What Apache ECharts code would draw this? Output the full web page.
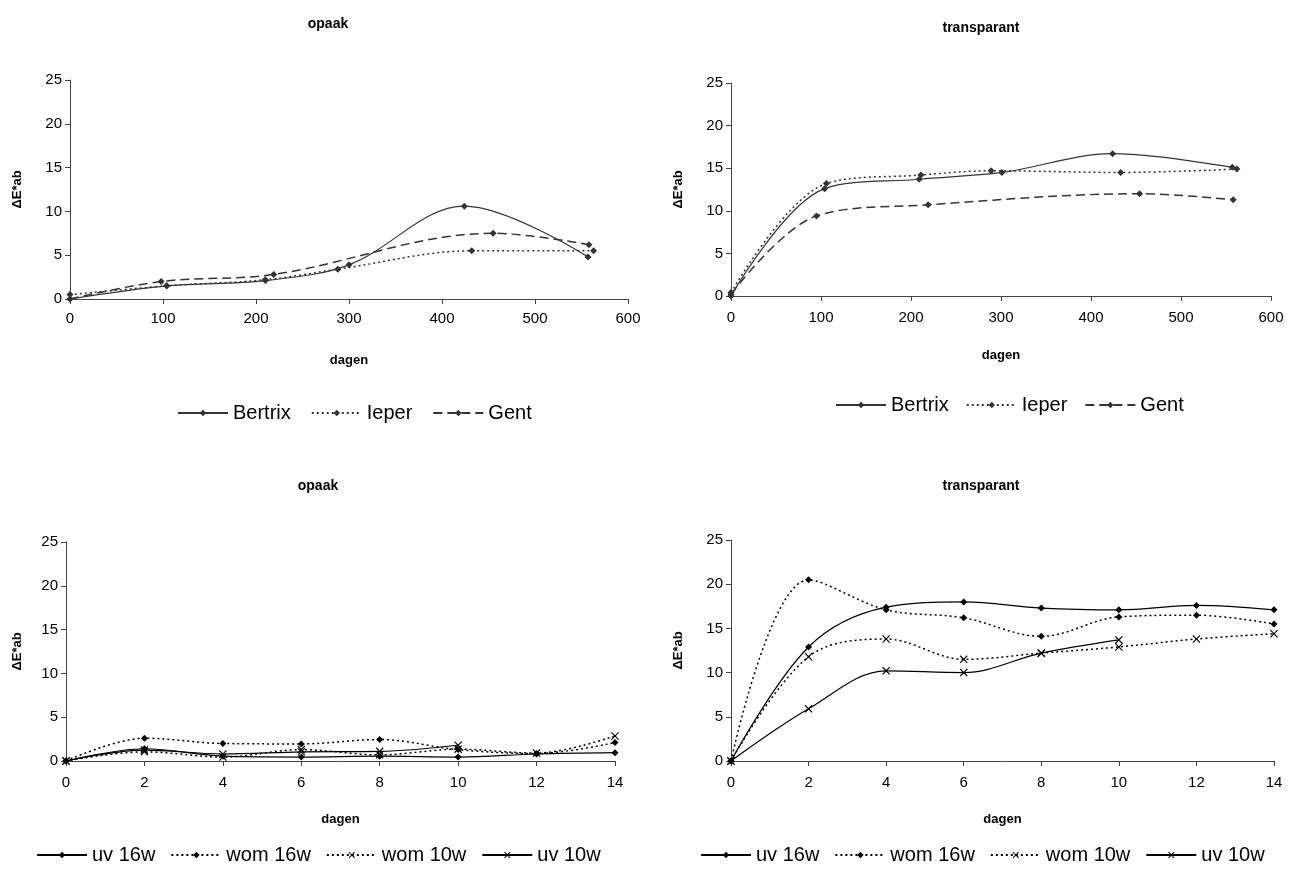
<!DOCTYPE html>
<html>
<head>
<meta charset="utf-8">
<script src="https://cdn.jsdelivr.net/npm/echarts@6/dist/echarts.min.js"></script>
<style>
  html, body { margin: 0; padding: 0; background: #fff; }
  #chart { width: 1297px; height: 876px; }
</style>
</head>
<body>
<div id="chart"></div>
<script>
// ---- ΔE*ab colour change, outdoor exposure (dagen) ----
const opaakBertrixDays = [0, 104, 210, 300, 424, 557];
const opaakBertrix     = [0, 1.5, 2.1, 3.9, 10.6, 4.8];
const opaakIeperDays   = [0, 104, 210, 288, 432, 563];
const opaakIeper       = [0.5, 1.5, 2.2, 3.4, 5.5, 5.5];
const opaakGentDays    = [0, 98, 219, 455, 558];
const opaakGent        = [0, 2.0, 2.8, 7.5, 6.2];

const transBertrixDays = [0, 104, 209, 301, 424, 557];
const transBertrix     = [0, 12.6, 13.7, 14.5, 16.7, 15.1];
const transIeperDays   = [0, 106, 211, 289, 433, 562];
const transIeper       = [0.4, 13.2, 14.2, 14.7, 14.5, 14.9];
const transGentDays    = [0, 95, 219, 454, 558];
const transGent        = [0.2, 9.4, 10.7, 12.0, 11.3];

// ---- ΔE*ab colour change, accelerated ageing (dagen) ----
const labDays   = [0, 2, 4, 6, 8, 10, 12, 14];
const uv10Days  = [0, 2, 4, 6, 8, 10];

const opaakUv16  = [0, 1.4, 0.55, 0.45, 0.55, 0.45, 0.8, 0.95];
const opaakWom16 = [0, 2.6, 2.0, 1.95, 2.45, 1.3, 0.85, 2.1];
const opaakWom10 = [0, 1.05, 0.45, 1.3, 0.7, 1.35, 0.9, 2.85];
const opaakUv10  = [0, 1.25, 0.8, 1.05, 1.1, 1.8];

const transUv16  = [0, 12.9, 17.4, 18.0, 17.3, 17.1, 17.6, 17.1];
const transWom16 = [0, 20.5, 17.1, 16.2, 14.1, 16.3, 16.5, 15.5];
const transWom10 = [0, 11.8, 13.8, 11.5, 12.2, 12.9, 13.8, 14.4];
const transUv10  = [0, 5.9, 10.2, 10.0, 12.2, 13.7];

const outdoorNames = ['Bertrix', 'Ieper', 'Gent'];
const labNames     = ['uv 16w', 'wom 16w', 'wom 10w', 'uv 10w'];
const panelTitles  = ['opaak', 'transparant', 'opaak', 'transparant'];
const yName = 'ΔE*ab';
const xName = 'dagen';

const FONT = '"Liberation Sans", Arial, sans-serif';
// filled "x" marker
const CROSS = 'path://M0,1 L1,0 L5,4 L9,0 L10,1 L6,5 L10,9 L9,10 L5,6 L1,10 L0,9 L4,5 Z';

function pairs(xs, ys) { return ys.map((v, i) => [xs[i], v]); }

const grids = [
  { left: 70,  top: 80,  width: 558, height: 219 },
  { left: 731, top: 83,  width: 540, height: 213 },
  { left: 66,  top: 542, width: 549, height: 219 },
  { left: 731, top: 540, width: 543, height: 221 }
];

function xAxis(i, max, interval, nameGap, margin) {
  return {
    type: 'value', gridIndex: i, min: 0, max: max, interval: interval,
    name: xName, nameLocation: 'middle', nameGap: nameGap,
    nameTextStyle: { fontFamily: FONT, fontWeight: 'bold', fontSize: 13, color: '#000' },
    axisLine: { lineStyle: { color: '#444', width: 1 } },
    axisTick: { show: true, length: 5, lineStyle: { color: '#444' } },
    axisLabel: { fontFamily: FONT, fontSize: 15, color: '#000', margin: margin },
    splitLine: { show: false }
  };
}
function yAxis(i, nameGap) {
  return {
    type: 'value', gridIndex: i, min: 0, max: 25, interval: 5,
    name: yName, nameLocation: 'middle', nameGap: nameGap, nameRotate: 90,
    nameTextStyle: { fontFamily: FONT, fontWeight: 'bold', fontSize: 13, color: '#000' },
    axisLine: { show: true, lineStyle: { color: '#444', width: 1 } },
    axisTick: { show: true, length: 5, lineStyle: { color: '#444' } },
    axisLabel: { fontFamily: FONT, fontSize: 15, color: '#000', margin: 8 },
    splitLine: { show: false }
  };
}

function line(name, idx, data, type, symbol, color) {
  return {
    type: 'line', name: name, xAxisIndex: idx, yAxisIndex: idx,
    data: data, smooth: 0.35,
    symbol: symbol, symbolSize: symbol === 'diamond' ? 7 : 8,
    lineStyle: { color: color, width: type === 'solid' ? 1.2 : 1.5, type: type },
    itemStyle: { color: color },
    emphasis: { disabled: true },
    animation: false
  };
}

const grey = '#333';
const black = '#000';
const DOT = [2, 3];
const DASH = [9, 5];

const series = [
  line('Bertrix', 0, pairs(opaakBertrixDays, opaakBertrix), 'solid', 'diamond', grey),
  line('Ieper',   0, pairs(opaakIeperDays, opaakIeper), DOT, 'diamond', grey),
  line('Gent',    0, pairs(opaakGentDays, opaakGent), DASH, 'diamond', grey),

  line('Bertrix', 1, pairs(transBertrixDays, transBertrix), 'solid', 'diamond', grey),
  line('Ieper',   1, pairs(transIeperDays, transIeper), DOT, 'diamond', grey),
  line('Gent',    1, pairs(transGentDays, transGent), DASH, 'diamond', grey),

  line('uv 16w',  2, pairs(labDays, opaakUv16), 'solid', 'diamond', black),
  line('wom 16w', 2, pairs(labDays, opaakWom16), DOT, 'diamond', black),
  line('wom 10w', 2, pairs(labDays, opaakWom10), DOT, CROSS, black),
  line('uv 10w',  2, pairs(uv10Days, opaakUv10), 'solid', CROSS, black),

  line('uv 16w',  3, pairs(labDays, transUv16), 'solid', 'diamond', black),
  line('wom 16w', 3, pairs(labDays, transWom16), DOT, 'diamond', black),
  line('wom 10w', 3, pairs(labDays, transWom10), DOT, CROSS, black),
  line('uv 10w',  3, pairs(uv10Days, transUv10), 'solid', CROSS, black)
];

function legend(names, left, top, gap) {
  return {
    data: names, top: top, left: left, itemWidth: 50, itemHeight: 8, itemGap: gap,
    textStyle: { fontFamily: FONT, fontSize: 20, color: '#000' },
    selectedMode: false
  };
}

const titlePos = [[323, 12], [976, 16], [313, 474], [976, 474]];

const option = {
  backgroundColor: '#fff',
  animation: false,
  title: panelTitles.map((t, i) => ({
    text: t, left: titlePos[i][0], top: titlePos[i][1], textAlign: 'center',
    textStyle: { fontFamily: FONT, fontWeight: 'bold', fontSize: 14, color: '#000' }
  })),
  grid: grids,
  xAxis: [xAxis(0, 600, 100, 55, 12), xAxis(1, 600, 100, 53, 14), xAxis(2, 14, 2, 52, 14), xAxis(3, 14, 2, 52, 14)],
  yAxis: [yAxis(0, 46), yAxis(1, 46), yAxis(2, 42), yAxis(3, 46)],
  legend: [
    legend(outdoorNames, 172, 398, 20),
    legend(outdoorNames, 830, 390, 17),
    legend(labNames, 31, 840, 15),
    legend(labNames, 695, 840, 15)
  ],
  series: series
};

const chart = echarts.init(document.getElementById('chart'), null, { renderer: 'canvas' });
chart.setOption(option);
</script>
</body>
</html>
